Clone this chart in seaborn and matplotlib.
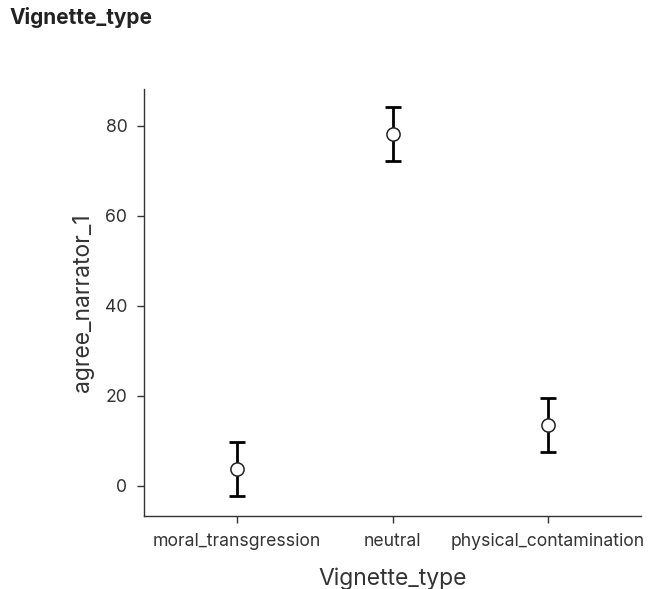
import matplotlib
matplotlib.use("Agg")
import matplotlib.pyplot as plt
import seaborn as sns
import pandas as pd
import numpy as np

categories = ["moral_transgression", "neutral", "physical_contamination"]
means = [3.8, 78.1, 13.5]
ci_low = [-2.2, 72.1, 7.5]
ci_high = [9.8, 84.1, 19.5]

df = pd.DataFrame({"Vignette_type": categories, "agree_narrator_1": means})

sns.set_style("white")
plt.rcParams['font.family'] = ['Inter', 'DejaVu Sans']

fig = plt.figure(figsize=(6.52, 5.89), dpi=100)
ax = fig.add_axes([144/652, 1-516/589, (641-144)/652, (516-89)/589])

x = np.arange(len(categories))
yerr = [np.array(means) - np.array(ci_low), np.array(ci_high) - np.array(means)]
ax.errorbar(x, means, yerr=yerr, fmt="none", ecolor="black", elinewidth=2,
            capsize=6, capthick=2, zorder=2)
sns.pointplot(data=df, x="Vignette_type", y="agree_narrator_1", errorbar=None,
              linestyle="none", marker="o", color="white", ax=ax,
              markersize=9.5, markeredgecolor="#222222", markeredgewidth=1.1)
for ln in ax.lines:
    if ln.get_marker() == "o":
        ln.set_zorder(4)

ax.set_xlim(-0.6, 2.6)
ax.set_ylim(-6.7, 88.2)
ax.set_yticks([0, 20, 40, 60, 80])
for s in ["top", "right"]:
    ax.spines[s].set_visible(False)
for s in ["left", "bottom"]:
    ax.spines[s].set_color("#333333")
    ax.spines[s].set_linewidth(1)
ax.tick_params(axis="both", bottom=True, left=True, direction="out", length=5,
               width=1, color="#333333", labelsize=12.7, labelcolor="#333333", pad=7)
ax.set_xlabel("Vignette_type", fontsize=16.5, color="#333333", labelpad=13)
ax.set_ylabel("agree_narrator_1", fontsize=16.5, color="#333333", labelpad=8)
fig.text(10/652, 1-18/589, "Vignette_type", fontsize=15, fontweight="bold",
         color="#222222", va="center", ha="left")

fig.savefig("out.png", dpi=100)
